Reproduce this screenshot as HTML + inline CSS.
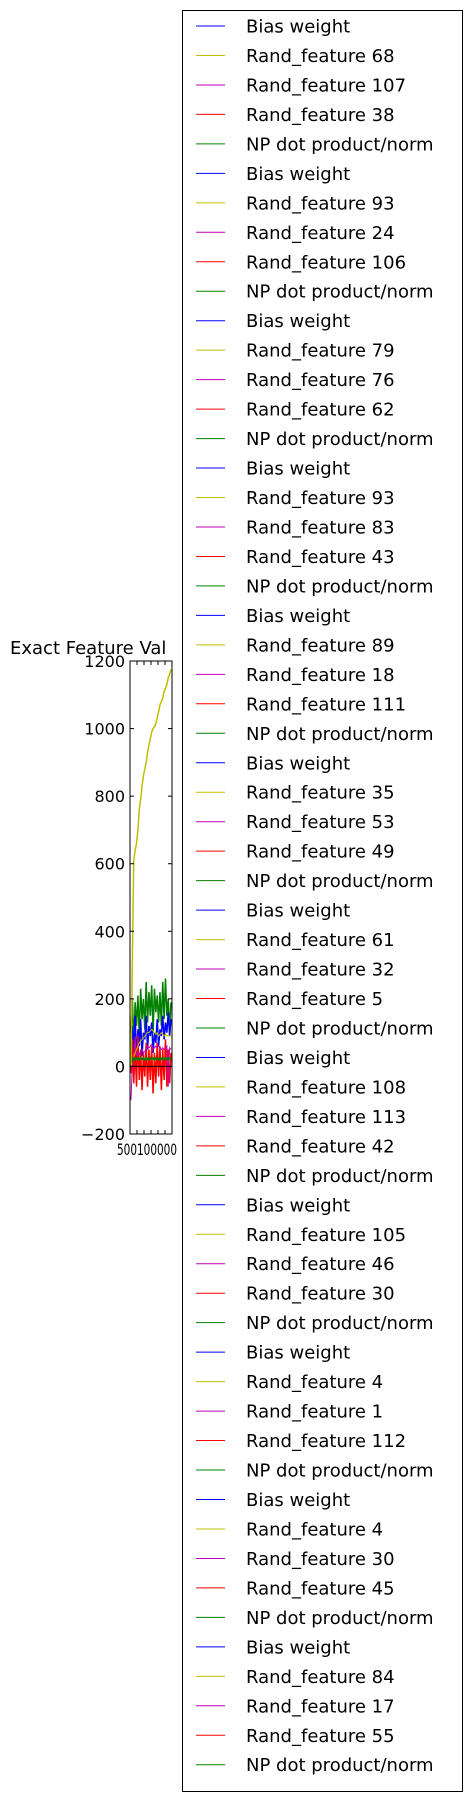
<!DOCTYPE html>
<html><head><meta charset="utf-8">
<style>
html,body{margin:0;padding:0;background:#fff;}
body{width:471px;height:1802px;overflow:hidden;font-family:"Liberation Sans","DejaVu Sans",sans-serif;}
svg text{font-family:"DejaVu Sans","Liberation Sans",sans-serif;}
</style></head>
<body>
<svg id="chart" width="471" height="1802" xmlns="http://www.w3.org/2000/svg">
<text x="10" y="654" font-size="18" fill="#000">Exact Feature Val</text>
<g id="plot"></g>
<g id="legend"></g>
</svg>
<script>
const yTicks=[1200,1000,800,600,400,200,0,-200];
const yellowMain=[0,320,610,640,660,700,760,790,830,860,880,900,930,950,970,990,1000,1005,1015,1030,1050,1070,1080,1090,1110,1120,1130,1150,1160,1175];
const greenVals=[100,200,60,190,120,210,90,230,140,200,110,250,130,220,150,240,100,230,160,210,130,220,120,250,140,260,150,200,110,190];
const blueVals=[10,120,40,150,20,110,60,140,30,100,80,150,50,120,90,130,40,100,70,140,60,110,90,150,80,130,100,160,90,140];
const redVals=[-20,80,-50,60,-60,90,-40,50,-70,40,-30,70,-60,50,-40,60,-80,40,-50,70,-30,60,-70,50,-40,80,-60,50,-50,40];
const magentaVals=[-100,10,20,90,30,40,35,45,50,40,45,50,60,55,60,65,50,55,60,55,60,55,50,55,50,55,60,-60,55,50];
const oliveVals=[0,20,30,40,50,60,70,75,80,85,90,95,100,100,105,110,105,100,95,100,90,95,100,95,90,95,90,92,90,90];
const greenFlat=[10,20,25,20,25,22,20,25,22,24,20,25,22,20,25,22,24,20,25,22,20,25,22,24,20,25,22,20,25,22];
const legendLabels=["Bias weight","Rand_feature 68","Rand_feature 107","Rand_feature 38","NP dot product/norm","Bias weight","Rand_feature 93","Rand_feature 24","Rand_feature 106","NP dot product/norm","Bias weight","Rand_feature 79","Rand_feature 76","Rand_feature 62","NP dot product/norm","Bias weight","Rand_feature 93","Rand_feature 83","Rand_feature 43","NP dot product/norm","Bias weight","Rand_feature 89","Rand_feature 18","Rand_feature 111","NP dot product/norm","Bias weight","Rand_feature 35","Rand_feature 53","Rand_feature 49","NP dot product/norm","Bias weight","Rand_feature 61","Rand_feature 32","Rand_feature 5","NP dot product/norm","Bias weight","Rand_feature 108","Rand_feature 113","Rand_feature 42","NP dot product/norm","Bias weight","Rand_feature 105","Rand_feature 46","Rand_feature 30","NP dot product/norm","Bias weight","Rand_feature 4","Rand_feature 1","Rand_feature 112","NP dot product/norm","Bias weight","Rand_feature 4","Rand_feature 30","Rand_feature 45","NP dot product/norm","Bias weight","Rand_feature 84","Rand_feature 17","Rand_feature 55","NP dot product/norm"];
const cycleColors=["#0000ff","#bfbf00","#bf00bf","#ff0000","#008000"];

const NS="http://www.w3.org/2000/svg";
const L=130,R=172,T=661,B=1134,yMin=-200,yMax=1200;
function ys(v){return T+(yMax-v)/(yMax-yMin)*(B-T);}
function xs(i,n){return L+1+i/(n-1)*(R-L-2);}
const plot=document.getElementById('plot');
function mk(tag,attrs,parent){const e=document.createElementNS(NS,tag);for(const k in attrs)e.setAttribute(k,attrs[k]);parent.appendChild(e);return e;}
function series(arr,color,name,w){
  const p=mk('polyline',{points:arr.map((v,i)=>xs(i,arr.length)+','+ys(v)).join(' '),fill:'none',stroke:color,'stroke-width':w||1},plot);
  
  
}
series(greenVals,'#008000','series-np-dot-product',1.5);
series(blueVals,'#0000ff','series-bias-weight',1.5);
series(redVals,'#ff0000','series-rand-feature-red',1.5);
series(magentaVals,'#bf00bf','series-rand-feature-magenta');
series(oliveVals,'#bfbf00','series-rand-feature-olive');
series(greenFlat,'#008000','series-np-dot-flat',2);
series(yellowMain,'#bfbf00','series-rand-feature-68',1.5);
mk('line',{x1:L,x2:R,y1:ys(0),y2:ys(0),stroke:'#000','stroke-width':1},plot);
const frame=mk('rect',{x:L,y:T,width:R-L,height:B-T,fill:'none',stroke:'#000','stroke-width':1},plot);


yTicks.forEach(v=>{
  const y=ys(v);
  mk('line',{x1:L,x2:L+4,y1:y,y2:y,stroke:'#000'},plot);
  mk('line',{x1:R-4,x2:R,y1:y,y2:y,stroke:'#000'},plot);
  const t=mk('text',{x:L-5,y:y+6,'font-size':16,'text-anchor':'end',fill:'#000'},plot);
  t.textContent=(v<0?'\u2212'+(-v):v);
  
  
});
for(let i=1;i<=5;i++){
  const x=L+i*(R-L)/6;
  mk('line',{x1:x,x2:x,y1:T,y2:T+4,stroke:'#000'},plot);
  mk('line',{x1:x,x2:x,y1:B-4,y2:B,stroke:'#000'},plot);
}
const xl=mk('text',{x:117,y:1155,'font-size':16,fill:'#000',textLength:60,lengthAdjust:'spacingAndGlyphs'},plot);
xl.textContent='500100000';



const lg=document.getElementById('legend');
const box=mk('rect',{x:182.5,y:10.5,width:280,height:1781,fill:'#fff',stroke:'#000','stroke-width':1},lg);


legendLabels.forEach((lab,i)=>{
  const y=26+i*29.47;
  const g=mk('g',{},lg);
  
  
  mk('line',{x1:196,x2:225,y1:y,y2:y,stroke:cycleColors[i%5],'stroke-width':1},g);
  const t=mk('text',{x:246,y:y+6.5,'font-size':18,fill:'#000'},g);
  t.textContent=lab;
});
</script>
</body></html>
